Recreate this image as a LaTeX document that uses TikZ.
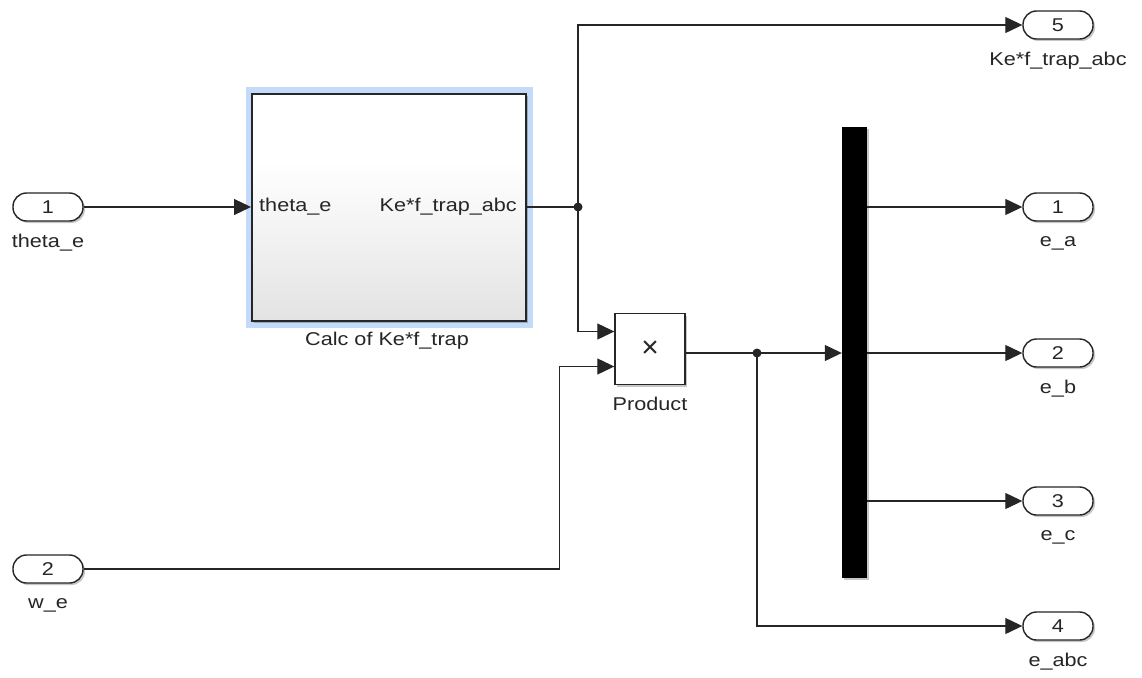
\documentclass[tikz,border=0pt]{standalone}
\usepackage{fontspec}
\setmainfont{Liberation Sans}
\usetikzlibrary{arrows.meta,shadows,calc}
\definecolor{ink}{HTML}{262626}
\definecolor{selblue}{HTML}{C3DAF9}
\definecolor{subgray}{HTML}{D4D4D4}
\pgfdeclareverticalshading{subgrad}{100bp}{color(0bp)=(subgray); color(20bp)=(subgray!75!white); color(60bp)=(white); color(100bp)=(white)}
% block text is set slightly wide, as in the model editor
\newcommand\wtxt[1]{\scalebox{1.17}[1]{#1}}

\begin{document}
\begin{tikzpicture}[x=1pt,y=-1pt,
  lbl/.style={font=\fontsize{18.5}{20}\selectfont, text=ink, inner sep=0pt},
  softshadow/.style={drop shadow={shadow xshift=2pt, shadow yshift=-2pt, opacity=0.22, fill=black}},
  port/.style={draw=ink, line width=1.4pt, fill=white, rounded corners=13.5pt,
    minimum width=70pt, minimum height=28pt, inner sep=0pt,
    font=\fontsize{18.5}{20}\selectfont, text=ink, softshadow},
  wire/.style={draw=ink, line width=1.2pt},
  sig/.style={wire, -{Triangle[length=17pt,width=16pt]}},
  dot/.style={circle, fill=ink, inner sep=0pt, minimum size=9pt}]

\useasboundingbox[fill=white] (0,0) rectangle (1142,677);

% inports
\node[port] (in1) at (48,207) {\wtxt{1}};
\node[lbl] (in1l) at (48,243) {\wtxt{theta\_e}};
\node[port] (in2) at (48,569) {\wtxt{2}};
\node[lbl] (in2l) at (48,605) {\wtxt{w\_e}};

% outports
\node[port] (out5) at (1058,25) {\wtxt{5}};
\node[lbl] (out5l) at (1058,61) {\wtxt{Ke*f\_trap\_abc}};
\node[port] (out1) at (1058,207) {\wtxt{1}};
\node[lbl] (out1l) at (1058,243) {\wtxt{e\_a}};
\node[port] (out2) at (1058,353) {\wtxt{2}};
\node[lbl] (out2l) at (1058,389) {\wtxt{e\_b}};
\node[port] (out3) at (1058,501) {\wtxt{3}};
\node[lbl] (out3l) at (1058,537) {\wtxt{e\_c}};
\node[port] (out4) at (1058,626) {\wtxt{4}};
\node[lbl] (out4l) at (1058,662) {\wtxt{e\_abc}};

% subsystem with selection highlight
\draw[selblue, line width=6pt] (248.5,89.5) rectangle (529.5,324.5);
\node[draw=ink, line width=2pt, shading=subgrad, minimum width=274pt, minimum height=227pt,
  inner sep=0pt, softshadow] (calc) at (389,207) {};
\node[lbl, anchor=west] (calcin) at ($(calc.west)+(8,0)$) {\wtxt{theta\_e}};
\node[lbl, anchor=east] (calcout) at ($(calc.east)+(-10,0)$) {\wtxt{Ke*f\_trap\_abc}};
\node[lbl] (calcl) at (387,341) {\wtxt{Calc of Ke*f\_trap}};

% product block
\node[draw=ink, line width=1.4pt, fill=white, minimum width=70pt, minimum height=71pt,
  inner sep=0pt, softshadow, font=\fontsize{30}{32}\selectfont, text=ink] (prod) at (650,349) {×};
\node[lbl] (prodl) at (650,404) {\wtxt{Product}};
\coordinate (pin1) at ($(prod.west)+(0,-17.5)$);
\coordinate (pin2) at ($(prod.west)+(0,17.5)$);
\coordinate (pout) at ($(prod.east)+(0,4)$);

% mux bar
\node[fill=black, minimum width=25pt, minimum height=451pt, inner sep=0pt, softshadow] (mux) at (854.5,352.5) {};

% branch points
\coordinate (j1) at (578,207);
\coordinate (j2) at (757,353);

% signal lines
\draw[sig] (in1.east) -- (in1.east -| calc.west);
\draw[wire] (calc.east |- j1) -- (j1);
\draw[sig] (j1) |- (out5.west);
\draw[sig] (j1) |- (pin1);
\draw[sig] (in2.east) -| ([xshift=-55pt]pin2) -- (pin2);
\draw[wire] (pout) -- (j2);
\draw[sig] (j2) -- (mux.west |- j2);
\draw[sig] (j2) |- (out4.west);
\draw[sig] (mux.east |- out1.west) -- (out1.west);
\draw[sig] (mux.east |- out2.west) -- (out2.west);
\draw[sig] (mux.east |- out3.west) -- (out3.west);

\node[dot] at (j1) {};
\node[dot] at (j2) {};
\end{tikzpicture}
\end{document}
